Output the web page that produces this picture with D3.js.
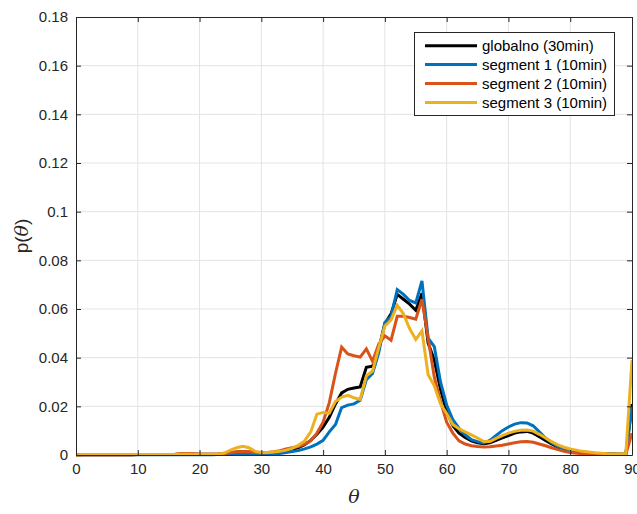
<!DOCTYPE html>
<html>
<head>
<meta charset="utf-8">
<script src="https://cdn.jsdelivr.net/npm/d3@7"></script>
<style>
  body { margin: 0; background: #fff; }
  svg { display: block; font-family: "Liberation Sans", Arial, Helvetica, sans-serif; }
</style>
</head>
<body>
<svg id="chart" width="637" height="514"></svg>
<script>
// ---------- data ----------
const theta = d3.range(0, 91); // 0..90 degrees
const xTicks = [0, 10, 20, 30, 40, 50, 60, 70, 80, 90];
const yTicks = [0, 0.02, 0.04, 0.06, 0.08, 0.1, 0.12, 0.14, 0.16, 0.18];
const seriesNames = ["globalno (30min)", "segment 1 (10min)", "segment 2 (10min)", "segment 3 (10min)"];
const seriesColors = ["#000000", "#0072BD", "#D95319", "#EDB120"];

const globalno = [
  0, 0.0001, 0.0001, 0.0001, 0.0001, 0.0001, 0.0001, 0.0001, 0.0001, 0.0001,
  0.0002, 0.0002, 0.0002, 0.0002, 0.0002, 0.0002, 0.0002, 0.0004, 0.0004, 0.0004,
  0.0003, 0.0003, 0.0003, 0.0003, 0.0005, 0.0008, 0.0012, 0.0014, 0.0012, 0.0008,
  0.0007, 0.0008, 0.0010, 0.0013, 0.0018, 0.0022, 0.0030, 0.0042, 0.0060, 0.0085,
  0.0115, 0.0155, 0.0210, 0.0255, 0.0270, 0.0275, 0.0280, 0.0360, 0.0365, 0.0435,
  0.0540, 0.0580, 0.0660, 0.0640, 0.0620, 0.0595, 0.0665, 0.0460, 0.0390, 0.0270,
  0.0180, 0.0120, 0.0090, 0.0072, 0.0058, 0.0050, 0.0046, 0.0050, 0.0060, 0.0070,
  0.0080, 0.0090, 0.0095, 0.0097, 0.0090, 0.0075, 0.0060, 0.0045, 0.0032, 0.0022,
  0.0015, 0.0012, 0.0010, 0.0008, 0.0006, 0.0005, 0.0004, 0.0004, 0.0003, 0.0003,
  0.0210
];
const segment1 = [
  0, 0.0001, 0.0001, 0.0001, 0.0001, 0.0001, 0.0001, 0.0001, 0.0001, 0.0001,
  0.0001, 0.0001, 0.0001, 0.0001, 0.0001, 0.0001, 0.0001, 0.0001, 0.0001, 0.0001,
  0.0001, 0.0001, 0.0001, 0.0002, 0.0002, 0.0002, 0.0002, 0.0003, 0.0003, 0.0003,
  0.0003, 0.0003, 0.0004, 0.0006, 0.0010, 0.0014, 0.0018, 0.0025, 0.0033, 0.0045,
  0.0060, 0.0095, 0.0125, 0.0195, 0.0205, 0.0210, 0.0225, 0.0310, 0.0335, 0.0420,
  0.0545, 0.0570, 0.0680, 0.0660, 0.0635, 0.0625, 0.0715, 0.0480, 0.0445, 0.0300,
  0.0205, 0.0145, 0.0110, 0.0083, 0.0063, 0.0055, 0.0050, 0.0060, 0.0080, 0.0100,
  0.0115, 0.0127, 0.0133, 0.0132, 0.0120, 0.0095, 0.0070, 0.0050, 0.0035, 0.0024,
  0.0018, 0.0013, 0.0010, 0.0007, 0.0005, 0.0004, 0.0003, 0.0003, 0.0003, 0.0003,
  0.0198
];
const segment2 = [
  0, 0.0001, 0.0001, 0.0001, 0.0001, 0.0001, 0.0001, 0.0001, 0.0001, 0.0001,
  0.0002, 0.0002, 0.0002, 0.0002, 0.0002, 0.0002, 0.0003, 0.0005, 0.0006, 0.0005,
  0.0003, 0.0003, 0.0003, 0.0003, 0.0005, 0.0009, 0.0013, 0.0014, 0.0013, 0.0010,
  0.0008, 0.0010, 0.0013, 0.0018, 0.0025, 0.0030, 0.0035, 0.0045, 0.0058, 0.0090,
  0.0135, 0.0215, 0.0335, 0.0443, 0.0415, 0.0408, 0.0402, 0.0436, 0.0385, 0.0455,
  0.0490, 0.0472, 0.0570, 0.0570, 0.0565, 0.0558, 0.0640, 0.0480, 0.0320, 0.0220,
  0.0135, 0.0090, 0.0058, 0.0045, 0.0038, 0.0035, 0.0033, 0.0034, 0.0037, 0.0040,
  0.0045, 0.0050, 0.0054, 0.0055, 0.0052, 0.0045, 0.0038, 0.0030, 0.0022, 0.0015,
  0.0010, 0.0007, 0.0005, 0.0003, 0.0003, 0.0003, 0.0003, 0.0003, 0.0003, 0.0003,
  0.0090
];
const segment3 = [
  0, 0.0002, 0.0002, 0.0002, 0.0002, 0.0002, 0.0002, 0.0002, 0.0002, 0.0002,
  0.0002, 0.0002, 0.0002, 0.0002, 0.0002, 0.0002, 0.0002, 0.0003, 0.0003, 0.0003,
  0.0003, 0.0003, 0.0003, 0.0003, 0.0008, 0.0020, 0.0030, 0.0036, 0.0030, 0.0015,
  0.0010, 0.0010, 0.0012, 0.0015, 0.0020, 0.0027, 0.0040, 0.0058, 0.0095, 0.0168,
  0.0175, 0.0172, 0.0220, 0.0238, 0.0245, 0.0235, 0.0228, 0.0325, 0.0345, 0.0440,
  0.0530, 0.0555, 0.0615, 0.0580, 0.0520, 0.0475, 0.0510, 0.0330, 0.0285, 0.0210,
  0.0170, 0.0125, 0.0108, 0.0095, 0.0083, 0.0070, 0.0055, 0.0055, 0.0068, 0.0080,
  0.0090, 0.0097, 0.0102, 0.0103, 0.0098, 0.0085, 0.0070, 0.0055, 0.0042, 0.0032,
  0.0025, 0.0020, 0.0015, 0.0012, 0.0009, 0.0007, 0.0005, 0.0004, 0.0004, 0.0004,
  0.0390
];
const seriesValues = [globalno, segment1, segment2, segment3];

// ---------- layout ----------
const svg = d3.select("#chart");
const margin = { left: 76, top: 17, right: 5, bottom: 59 };
const W = 637, H = 514;
const iw = W - margin.left - margin.right;
const ih = H - margin.top - margin.bottom;
const axisColor = "#262626";

const x = d3.scaleLinear().domain([0, 90]).range([0, iw]);
const y = d3.scaleLinear().domain([0, 0.18]).range([ih, 0]);

const g = svg.append("g").attr("transform", `translate(${margin.left},${margin.top})`);

// grid
g.append("g").attr("class", "grid")
  .selectAll("line.v").data(xTicks.slice(1, -1)).join("line")
  .attr("x1", d => x(d)).attr("x2", d => x(d))
  .attr("y1", 0).attr("y2", ih)
  .attr("stroke", "#e3e3e3").attr("stroke-width", 1);
g.append("g").attr("class", "grid")
  .selectAll("line.h").data(yTicks.slice(1, -1)).join("line")
  .attr("x1", 0).attr("x2", iw)
  .attr("y1", d => y(d)).attr("y2", d => y(d))
  .attr("stroke", "#e3e3e3").attr("stroke-width", 1);

// lines
const lineGen = d3.line().x((d, i) => x(theta[i])).y(d => y(d));
const clip = svg.append("defs").append("clipPath").attr("id", "clip")
  .append("rect").attr("x", -2).attr("y", -2).attr("width", iw + 2).attr("height", ih + 4);
const lines = g.append("g").attr("clip-path", "url(#clip)");
seriesValues.forEach((vals, k) => {
  lines.append("path")
    .datum(vals)
    .attr("d", lineGen)
    .attr("fill", "none")
    .attr("stroke", seriesColors[k])
    .attr("stroke-width", 3)
    .attr("stroke-linejoin", "miter")
    .attr("stroke-miterlimit", 3);
});

// axes
const fmtY = d => d === 0 ? "0" : d3.format("")(+d.toFixed(2));
function styleAxis(sel, labels) {
  sel.select(".domain").attr("stroke", axisColor).attr("stroke-width", 1);
  sel.selectAll(".tick line").attr("stroke", axisColor);
  sel.selectAll(".tick text").attr("fill", axisColor)
    .style("font-size", "15px")
    .style("font-family", '"Liberation Sans", Arial, sans-serif');
  if (!labels) sel.selectAll(".tick text").remove();
}
const xAxis = g.append("g").attr("transform", `translate(0,${ih})`)
  .call(d3.axisBottom(x).tickValues(xTicks).tickSize(-5).tickSizeOuter(0).tickPadding(8).tickFormat(d3.format("d")));
styleAxis(xAxis, true);
const xAxisTop = g.append("g")
  .call(d3.axisTop(x).tickValues(xTicks).tickSize(-5).tickSizeOuter(0));
styleAxis(xAxisTop, false);
const yAxis = g.append("g")
  .call(d3.axisLeft(y).tickValues(yTicks).tickSize(-5).tickSizeOuter(0).tickPadding(8).tickFormat(fmtY));
styleAxis(yAxis, true);
const yAxisRight = g.append("g").attr("transform", `translate(${iw},0)`)
  .call(d3.axisRight(y).tickValues(yTicks).tickSize(-5).tickSizeOuter(0));
styleAxis(yAxisRight, false);

// axis labels
const xl = svg.append("text")
  .attr("x", margin.left + iw / 2).attr("y", 503)
  .attr("text-anchor", "middle")
  .attr("fill", axisColor)
  .style("font-size", "19px")
  .style("font-family", '"DejaVu Serif", "Liberation Serif", serif')
  .style("font-style", "italic")
  .text("θ");

const yl = svg.append("text")
  .attr("transform", `translate(28,${margin.top + ih / 2}) rotate(-90)`)
  .attr("text-anchor", "middle")
  .attr("fill", axisColor)
  .style("font-size", "19px");
yl.append("tspan").text("p(");
yl.append("tspan").style("font-family", '"DejaVu Serif", "Liberation Serif", serif')
  .style("font-style", "italic").text("θ");
yl.append("tspan").text(")");

// legend
const lg = svg.append("g").attr("transform", "translate(414,32)");
lg.append("rect").attr("x", 0.5).attr("y", 0.5).attr("width", 200).attr("height", 83)
  .attr("fill", "#fff").attr("stroke", axisColor).attr("stroke-width", 1);
seriesNames.forEach((name, k) => {
  const yy = 13.7 + k * 18.9;
  lg.append("line").attr("x1", 11).attr("x2", 63).attr("y1", yy).attr("y2", yy)
    .attr("stroke", seriesColors[k]).attr("stroke-width", 3);
  lg.append("text").attr("x", 68).attr("y", yy).attr("dy", "0.35em")
    .attr("fill", "#000").style("font-size", "15px").text(name);
});
</script>
</body>
</html>
